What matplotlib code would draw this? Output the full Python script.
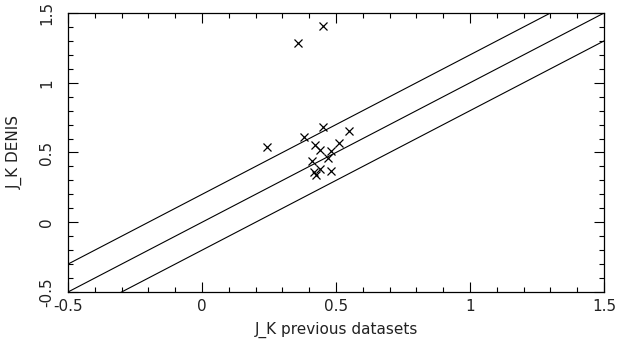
import numpy as np
import matplotlib
matplotlib.use("Agg")
import matplotlib.pyplot as plt
from matplotlib.ticker import MultipleLocator

# J_K colours: previous datasets vs DENIS
jk_prev = [0.453, 0.359, 0.241, 0.382, 0.453, 0.550, 0.511, 0.422, 0.440,
           0.481, 0.469, 0.410, 0.440, 0.481, 0.418, 0.426]
jk_denis = [1.407, 1.287, 0.542, 0.609, 0.681, 0.656, 0.570, 0.554, 0.518,
            0.509, 0.458, 0.439, 0.380, 0.370, 0.362, 0.340]

offsets = [0.2, 0.0, -0.2]

plt.rcParams['font.family'] = ['DejaVu Sans']
fig = plt.figure(figsize=(6.26, 3.49), dpi=100)
ax = fig.add_axes([0.1086, 0.1633, 0.8564, 0.7995])

xx = np.array([-0.5, 1.5])
for off in offsets:
    ax.plot(xx, xx + off, color='black', lw=0.8)

ax.plot(jk_prev, jk_denis, 'x', color='black', ms=5.5, mew=0.9)

ax.set_xlim(-0.5, 1.5)
ax.set_ylim(-0.5, 1.5)
ax.xaxis.set_major_locator(MultipleLocator(0.5))
ax.xaxis.set_minor_locator(MultipleLocator(0.1))
ax.yaxis.set_major_locator(MultipleLocator(0.5))
ax.yaxis.set_minor_locator(MultipleLocator(0.1))
ax.tick_params(which='both', direction='in', top=True, right=True, width=0.8)
ax.tick_params(which='major', length=7, labelsize=11, labelcolor='#222222')
ax.tick_params(which='minor', length=3.5)
ax.tick_params(axis='x', which='major', pad=5)
ax.tick_params(axis='y', which='major', pad=10)
ax.xaxis.set_major_formatter(plt.FuncFormatter(lambda v, p: f"{v:g}"))
ax.yaxis.set_major_formatter(plt.FuncFormatter(lambda v, p: f"{v:g}"))
for lab in ax.get_yticklabels():
    lab.set_rotation(90)
    lab.set_va('center')
for s in ax.spines.values():
    s.set_linewidth(0.9)

ax.set_xlabel('J_K previous datasets', fontsize=11, labelpad=6, color='#222222')
ax.set_ylabel('J_K DENIS', fontsize=11, labelpad=12, color='#222222')

fig.savefig('out.png', dpi=100)
